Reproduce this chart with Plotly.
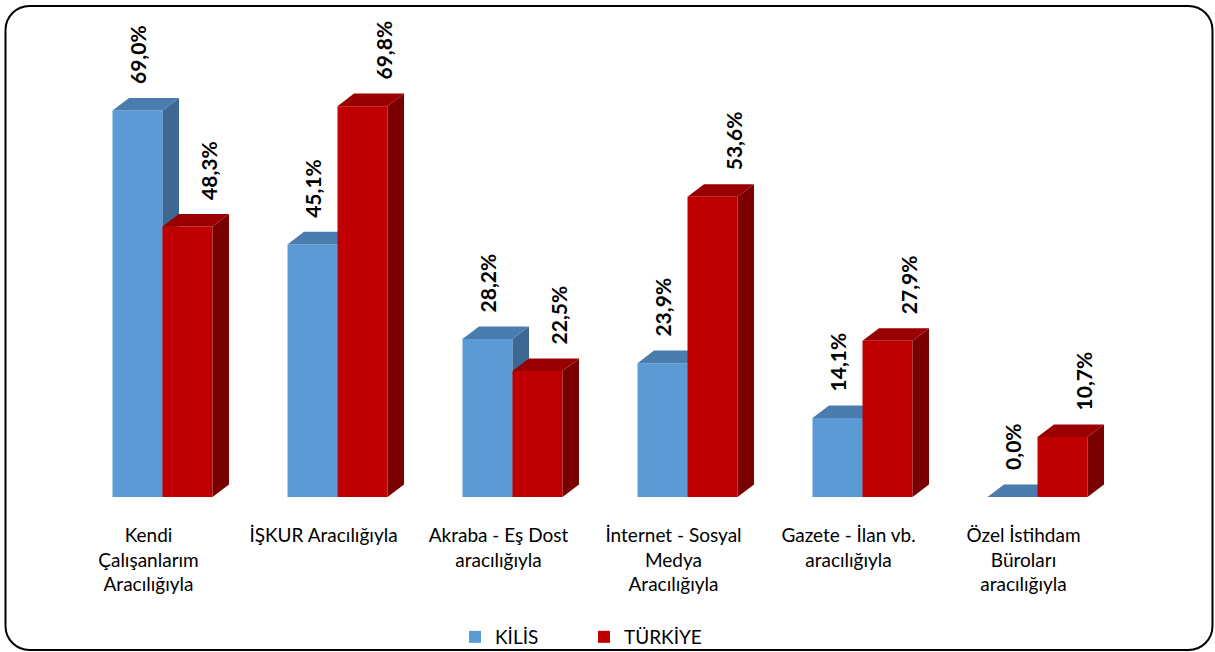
import plotly.graph_objects as go

# ---------------- data ----------------
categories = [
    "Kendi<br>Çalışanlarım<br>Aracılığıyla",
    "İŞKUR Aracılığıyla",
    "Akraba - Eş Dost<br>aracılığıyla",
    "İnternet - Sosyal<br>Medya<br>Aracılığıyla",
    "Gazete - İlan vb.<br>aracılığıyla",
    "Özel İstihdam<br>Büroları<br>aracılığıyla",
]
kilis = [69.0, 45.1, 28.2, 23.9, 14.1, 0.0]
turkiye = [48.3, 69.8, 22.5, 53.6, 27.9, 10.7]
series_names = ["KİLİS", "TÜRKİYE"]

# ---------------- layout constants ----------------
W, H = 1215, 652
L, R, T, B = 75, 90, 20, 155
PW, PH = W - L - R, H - T - B
YMAX = 85.18
BAR_W = 0.2857          # width of each bar (category units)
DX = 0.0943             # 3D depth (category units)
DY = 2.25               # 3D depth (value units)
FONT = "Lato"

front = ["#5B9BD5", "#C00000"]
top_c = ["#4A7DAE", "#9A0000"]
side_c = ["#3D6893", "#7A0000"]

idx = list(range(len(categories)))


def fmt(v):
    return f"{v:.1f}".replace(".", ",") + "%"


def faces(values, offset):
    sx, sy, tx, ty = [], [], [], []
    for i, v in zip(idx, values):
        x0 = i + offset
        x1 = x0 + BAR_W
        # side face
        sx += [x1, x1 + DX, x1 + DX, x1, x1, None]
        sy += [0, DY, v + DY, v, 0, None]
        # top face
        tx += [x0, x1, x1 + DX, x0 + DX, x0, None]
        ty += [v, v, v + DY, v + DY, v, None]
    return sx, sy, tx, ty


fig = go.Figure()

for s, (vals, off, xa, ya) in enumerate([
    (kilis, -BAR_W, "x", "y"),
    (turkiye, 0.0, "x2", "y2"),
]):
    fig.add_trace(go.Bar(
        x=idx, y=vals, width=BAR_W, offset=off,
        marker=dict(color=front[s], line=dict(width=0)),
        name=series_names[s], xaxis=xa, yaxis=ya,
        hoverinfo="skip",
    ))
    sx, sy, tx, ty = faces(vals, off)
    fig.add_trace(go.Scatter(
        x=sx, y=sy, mode="lines", fill="toself", fillcolor=side_c[s],
        line=dict(width=0, color=side_c[s]), showlegend=False,
        hoverinfo="skip", xaxis=xa, yaxis=ya,
    ))
    fig.add_trace(go.Scatter(
        x=tx, y=ty, mode="lines", fill="toself", fillcolor=top_c[s],
        line=dict(width=0, color=top_c[s]), showlegend=False,
        hoverinfo="skip", xaxis=xa, yaxis=ya,
    ))

# data labels
LABEL_FONT = dict(family=FONT, size=21, color="#000000", weight="bold")
annotations = []
for i in idx:
    annotations.append(dict(
        x=i - BAR_W / 2, y=kilis[i] + DY, xref="x", yref="y",
        text=fmt(kilis[i]), showarrow=False, textangle=-90,
        xanchor="center", yanchor="bottom", yshift=12,
        font=LABEL_FONT,
    ))
    annotations.append(dict(
        x=i + BAR_W / 2, y=turkiye[i] + DY, xref="x", yref="y",
        text=fmt(turkiye[i]), showarrow=False, textangle=-90,
        xanchor="center", yanchor="bottom", yshift=12, xshift=21,
        font=LABEL_FONT,
    ))


def px_x(px):
    return (px - L) / PW


def px_y(py):
    return (H - B - py) / PH


# rounded border
bx0, bx1, by0, by1, r = 5.5, 1212.5, 6.0, 650.0, 24.0
k = 0.5523 * r
pts = [
    ("M", [(bx0 + r, by0)]),
    ("L", [(bx1 - r, by0)]),
    ("C", [(bx1 - r + k, by0), (bx1, by0 + r - k), (bx1, by0 + r)]),
    ("L", [(bx1, by1 - r)]),
    ("C", [(bx1, by1 - r + k), (bx1 - r + k, by1), (bx1 - r, by1)]),
    ("L", [(bx0 + r, by1)]),
    ("C", [(bx0 + r - k, by1), (bx0, by1 - r + k), (bx0, by1 - r)]),
    ("L", [(bx0, by0 + r)]),
    ("C", [(bx0, by0 + r - k), (bx0 + r - k, by0), (bx0 + r, by0)]),
]
path = " ".join(
    cmd + " " + " ".join(f"{px_x(a):.5f},{px_y(b):.5f}" for a, b in p)
    for cmd, p in pts
) + " Z"

fig.update_layout(
    width=W, height=H,
    margin=dict(l=L, r=R, t=T, b=B, autoexpand=False),
    paper_bgcolor="white", plot_bgcolor="white",
    font=dict(family=FONT, size=19, color="#000000"),
    showlegend=True,
    legend=dict(
        orientation="h", xref="paper", yref="paper",
        x=px_x(455), y=px_y(637), xanchor="left", yanchor="middle",
        font=dict(family=FONT, size=19, color="#000000"),
        entrywidth=84, entrywidthmode="pixels",
        bgcolor="rgba(0,0,0,0)", traceorder="normal",
    ),
    xaxis=dict(
        range=[-0.5, 5.5], tickvals=[i - 0.08 for i in idx], ticktext=categories,
        showgrid=False, zeroline=False, showline=False, ticks="",
        tickfont=dict(family=FONT, size=19, color="#000000"),
        ticklabelstandoff=25, fixedrange=True, automargin=False,
    ),
    yaxis=dict(range=[0, YMAX], visible=False, fixedrange=True),
    xaxis2=dict(range=[-0.5, 5.5], overlaying="x", visible=False, fixedrange=True),
    yaxis2=dict(range=[0, YMAX], overlaying="y", visible=False, fixedrange=True),
    annotations=annotations,
    shapes=[dict(type="path", xref="paper", yref="paper", path=path,
                 line=dict(color="#000000", width=2), fillcolor="rgba(0,0,0,0)",
                 layer="above")],
)

fig.write_html("out.html", config={"displayModeBar": False},
               post_script="document.body.style.margin='0';")
